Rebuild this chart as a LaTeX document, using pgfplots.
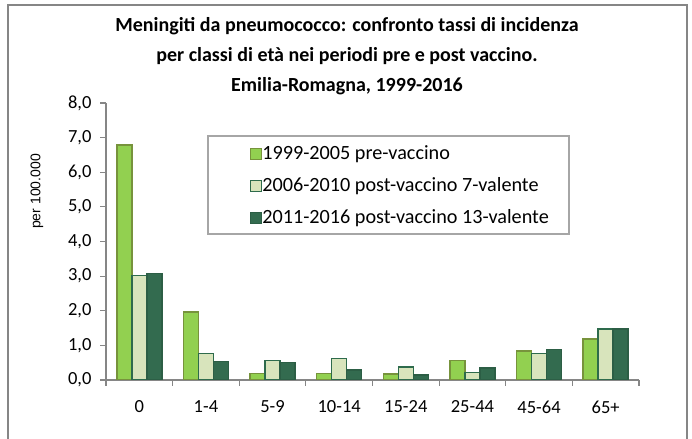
\documentclass[border=0pt]{standalone}
\usepackage{fontspec}
\setmainfont{Carlito}
\newfontfamily\arialfont{Liberation Sans}
\usepackage{pgfplots}
\pgfplotsset{compat=1.18}

\definecolor{c1}{HTML}{92D050}
\definecolor{c1d}{HTML}{77933C}
\definecolor{c2}{HTML}{D8E4BC}
\definecolor{c2d}{HTML}{2E6B4C}
\definecolor{c3}{HTML}{336B4F}
\definecolor{c3d}{HTML}{2C5E45}
\definecolor{axgray}{HTML}{868686}
\definecolor{leggray}{HTML}{A6A6A6}

\begin{document}
\begin{tikzpicture}[x=1bp,y=1bp]
\useasboundingbox (0,0) rectangle (692,439);
\draw[axgray, line width=1.5bp] (8,-5) -- (8,434) -- (687,434) -- (687,-5);
\node[align=center, font=\fontsize{20bp}{30bp}\selectfont\bfseries] at (347,383)
  {Meningiti da pneumococco: confronto tassi di incidenza\\per classi di età nei periodi pre e post vaccino.\\Emilia-Romagna, 1999-2016};
\node[rotate=90, font=\arialfont\fontsize{14bp}{16bp}\selectfont] at (37,247.5) {per 100.000};
\draw[leggray, line width=1.5bp] (208,205) rectangle (569,303);
\begin{axis}[
  at={(106bp,59bp)}, anchor=south west,
  scale only axis, width=533bp, height=277bp,
  ymin=0, ymax=8, ytick={0,1,...,8},
  xmin=-0.5, xmax=7.5,
  xtick={0,...,7},
  xticklabels={0,1-4,5-9,10-14,15-24,25-44,45-64,65+},
  minor xtick={-0.5,0.5,...,7.5},
  major x tick style={draw=none},
  minor x tick style={axgray, line width=1.2bp},
  y tick style={axgray, line width=1.2bp},
  tick align=outside,
  major tick length=6bp, minor tick length=6bp,
  axis x line*=bottom, axis y line*=left,
  axis line style={-, axgray, line width=1.5bp},
  tick label style={font=\fontsize{18.5bp}{22bp}\selectfont},
  xticklabel style={yshift=-11bp},
  /pgf/number format/assume math mode=true,
  yticklabel style={xshift=-5bp, /pgf/number format/.cd, fixed, fixed zerofill, precision=1, use comma},
  ybar=0pt, bar width=15bp,
  legend image code/.code={\draw[#1, line width=1.2bp] (0bp,-5.5bp) rectangle (11bp,5.5bp);},
  legend style={at={(rel axis cs:0.270,0.845)}, anchor=north west, draw=none, fill=none,
    inner sep=0pt, row sep=16bp, font=\fontsize{20.2bp}{22bp}\selectfont,
    nodes={inner sep=0pt, text height=13.5bp, text depth=2.5bp},
    /tikz/every even column/.style={column sep=5bp}},
  legend cell align=left,
]
\addplot[fill=c1, draw=c1d, line width=1.5bp, bar shift=-15bp] coordinates {(0,6.78) (1,1.97) (2,0.19) (3,0.19) (4,0.17) (5,0.56) (6,0.84) (7,1.18)};
\addplot[fill=c2, draw=c2d, line width=1.5bp, bar shift=0bp] coordinates {(0,3.02) (1,0.77) (2,0.56) (3,0.62) (4,0.37) (5,0.22) (6,0.77) (7,1.47)};
\addplot[fill=c3, draw=c3d, line width=1.5bp, bar shift=15bp] coordinates {(0,3.07) (1,0.53) (2,0.50) (3,0.29) (4,0.14) (5,0.35) (6,0.88) (7,1.48)};
\legend{1999-2005 pre-vaccino, 2006-2010 post-vaccino 7-valente, 2011-2016 post-vaccino 13-valente}
\end{axis}
\end{tikzpicture}
\end{document}
